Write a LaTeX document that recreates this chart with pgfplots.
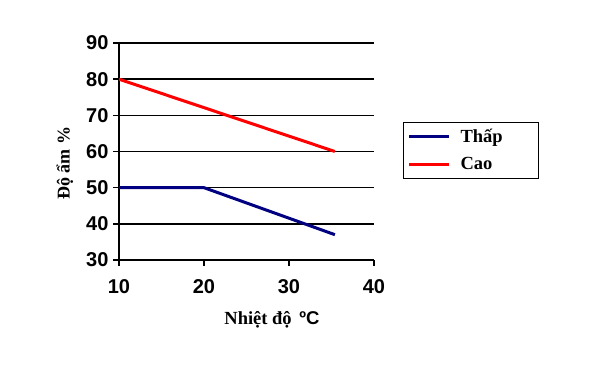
\documentclass[border=0pt]{standalone}
\usepackage{pgfplots}
\pgfplotsset{compat=1.18}
\usepackage{fontspec}
\setmainfont{Liberation Serif}
\setsansfont{Liberation Sans}
\definecolor{navyline}{RGB}{0,0,128}
\definecolor{redline}{RGB}{255,0,0}
\begin{document}
\begin{tikzpicture}
\path[use as bounding box] (0pt,0pt) rectangle (600pt,365pt);
\begin{axis}[
  at={(119pt,105pt)}, anchor=south west,
  scale only axis, width=255pt, height=217pt,
  xmin=10, xmax=40, ymin=30, ymax=90,
  xtick={10,20,30,40}, ytick={30,40,50,60,70,80,90},
  axis x line*=bottom, axis y line*=left,
  axis line style={line width=1.8pt, black, -},
  ymajorgrids, grid style={line width=1.6pt, black},
  tick style={line width=1.6pt, black},
  tick align=outside, major tick length=6pt,
  /pgf/number format/assume math mode=true,
  ticklabel style={font=\sffamily\bfseries\fontsize{20}{23}\selectfont},
  xticklabel style={yshift=-10pt},
  yticklabel style={xshift=-1pt},
  xlabel={Nhiệt độ \,{\sffamily ºC}},
  xlabel style={font=\rmfamily\bfseries\fontsize{18.5}{21}\selectfont, at={(axis description cs:0.6,-0.276)}, anchor=center},
  ylabel={Độ ẩm \%},
  ylabel style={font=\rmfamily\bfseries\fontsize{18}{21}\selectfont, at={(axis description cs:-0.212,0.447)}, anchor=center},
  legend style={at={(rel axis cs:1.114,0.636)}, anchor=north west, draw=black, line width=1pt,
    font=\rmfamily\bfseries\fontsize{18.5}{21}\selectfont, inner xsep=4pt, inner ysep=5pt,
    row sep=9pt, cells={anchor=west, text width=80pt}},
  legend image code/.code={\draw[#1, line width=3pt] (0pt,0pt) -- (40pt,0pt);},
]
\addplot[navyline, line width=3pt] coordinates {(10,50) (20,50) (35.4,37)};
\addlegendentry{\hspace{8pt}Thấp}
\addplot[redline, line width=3pt] coordinates {(10,80) (35.4,60)};
\addlegendentry{\hspace{8pt}Cao}
\end{axis}
\end{tikzpicture}
\end{document}
